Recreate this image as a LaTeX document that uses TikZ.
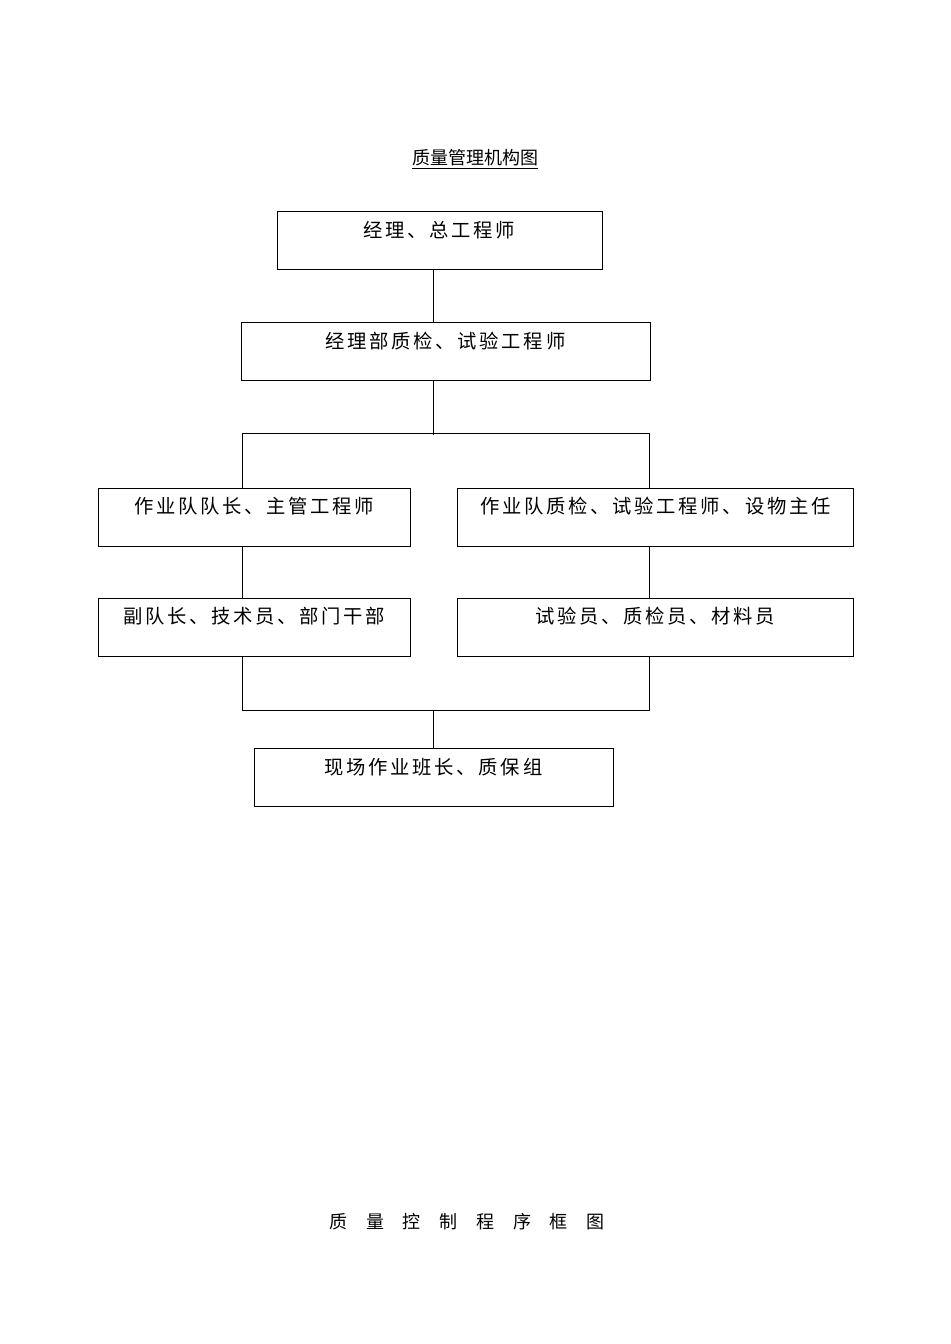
\documentclass[tikz,border=0pt]{standalone}
\usepackage{fontspec}
\newfontfamily\cjk{Noto Sans CJK SC}
\newfontfamily\cjkbox[LetterSpace=14]{Noto Sans CJK SC}
\newfontfamily\cjkwide[LetterSpace=104]{Noto Sans CJK SC}
\begin{document}
\begin{tikzpicture}[x=0.75pt,y=-0.75pt,
  box/.style={draw, line width=0.75pt, inner sep=0pt},
  lbl/.style={inner sep=0pt, font=\cjkbox\fontsize{14.5pt}{16pt}\selectfont},
  conn/.style={line width=0.75pt}]
\useasboundingbox (0,0) rectangle (950,1344);
% title
\node[inner sep=0pt, font=\cjk\fontsize{13.5pt}{15pt}\selectfont] (title) at (475,159) {\underline{质量管理机构图}};
% boxes
\node[box, minimum width=325*0.75pt, minimum height=58*0.75pt] (b1) at (439.5,241) {};
\node[lbl] (t1) at (439.5,230) {经理、总工程师};
\node[box, minimum width=409*0.75pt, minimum height=58*0.75pt] (b2) at (445.5,351) {};
\node[lbl] (t2) at (445.5,341) {经理部质检、试验工程师};
\node[box, minimum width=312*0.75pt, minimum height=58*0.75pt] (b3) at (254,517) {};
\node[lbl] (t3) at (254,506) {作业队队长、主管工程师};
\node[box, minimum width=396*0.75pt, minimum height=58*0.75pt] (b4) at (655,517) {};
\node[lbl] (t4) at (655.5,506) {作业队质检、试验工程师、设物主任};
\node[box, minimum width=312*0.75pt, minimum height=58*0.75pt] (b5) at (254,627) {};
\node[lbl] (t5) at (254,616) {副队长、技术员、部门干部};
\node[box, minimum width=396*0.75pt, minimum height=58*0.75pt] (b6) at (655,627) {};
\node[lbl] (t6) at (655,616) {试验员、质检员、材料员};
\node[box, minimum width=359*0.75pt, minimum height=58*0.75pt] (b7) at (433.5,777) {};
\node[lbl] (t7) at (433.5,767) {现场作业班长、质保组};
% junction coordinates
\coordinate (m) at (433,0);
\coordinate (l) at (242,0);
\coordinate (r) at (649,0);
\coordinate (jm1) at (433,433);
\coordinate (jl1) at (242,433);
\coordinate (jr1) at (649,433);
\coordinate (jl2) at (242,710);
\coordinate (jr2) at (649,710);
\coordinate (jm2) at (433,710);
% connectors
\draw[conn] (b1.south -| m) -- (b2.north -| m);
\draw[conn] (b2.south -| m) -- ([yshift=-1.5pt]jm1);
\draw[conn] (b3.north -| l) -- (jl1) -- (jr1) -- (b4.north -| r);
\draw[conn] (b3.south -| l) -- (b5.north -| l);
\draw[conn] (b4.south -| r) -- (b6.north -| r);
\draw[conn] (b5.south -| l) -- (jl2) -- (jr2) -- (b6.south -| r);
\draw[conn] (jm2) -- (b7.north -| m);
% bottom caption
\node[inner sep=0pt, font=\cjkwide\fontsize{13.5pt}{15pt}\selectfont] (cap) at (467,1222) {质量控制程序框图};
\end{tikzpicture}
\end{document}
